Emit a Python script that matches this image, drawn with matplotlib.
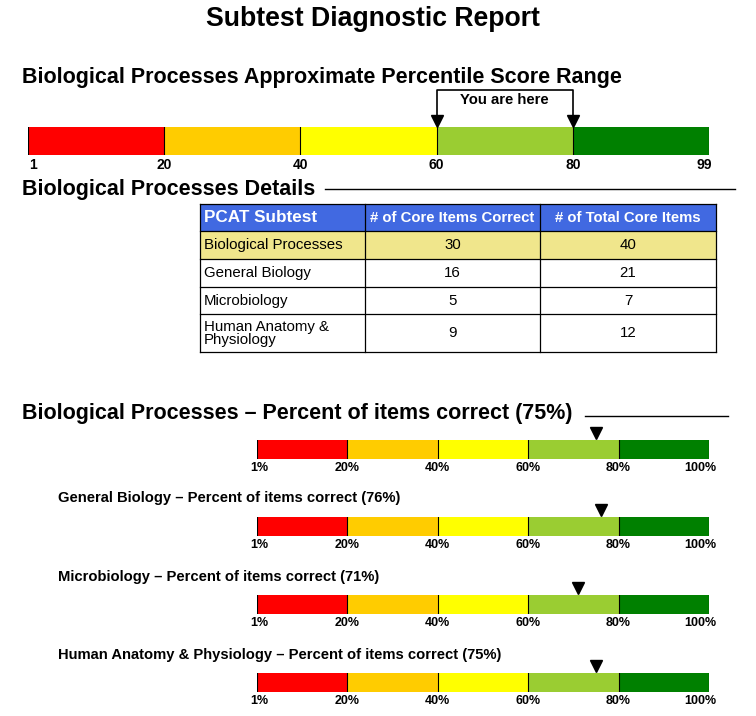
import matplotlib
matplotlib.use("Agg")
import matplotlib.pyplot as plt
from matplotlib.patches import Rectangle
import matplotlib.transforms as mtransforms

plt.rcParams['font.family'] = ['Liberation Sans', 'DejaVu Sans']

W, H = 756, 716

# data
BAND_COLORS = ["#ff0000", "#ffcc00", "#ffff00", "#9acd32", "#008000"]
PCT_LABELS = ["1", "20", "40", "60", "80", "99"]
RANGE_IDX = (3, 4)          # 60 .. 80 band

TABLE_HEADER = ["PCAT Subtest", "# of Core Items Correct", "# of Total Core Items"]
SUBTESTS = ["Biological Processes", "General Biology", "Microbiology",
            "Human Anatomy &\nPhysiology"]
CORRECT = [30, 16, 5, 9]
TOTAL = [40, 21, 7, 12]

BOUNDS = [0, 20, 40, 60, 80, 100]
BOUND_LABELS = ["1%", "20%", "40%", "60%", "80%", "100%"]
PCT_CORRECT = [75, 76, 71, 75]
SUB_TITLES = ["General Biology", "Microbiology", "Human Anatomy & Physiology"]


def px_axes(fig, x0, y0, w, h):
    return fig.add_axes([x0 / W, 1 - (y0 + h) / H, w / W, h / H])


def nudge(lbl, ha, dx, fig):
    lbl.set_ha(ha)
    lbl.set_transform(lbl.get_transform() + mtransforms.ScaledTranslation(dx / 100, 0, fig.dpi_scale_trans))


def band_bar(ax, edges, labels, size):
    for i, c in enumerate(BAND_COLORS):
        ax.barh(0.5, edges[i + 1] - edges[i], left=edges[i], height=1.0, color=c, edgecolor="none")
    for e in edges:
        ax.axvline(e, color="black", lw=0.8)
    ax.set_xlim(edges[0], edges[-1])
    ax.set_ylim(0, 1)
    ax.set_yticks([])
    ax.set_xticks(edges)
    ax.set_xticklabels(labels, fontsize=size, fontweight="bold")
    ax.tick_params(axis="x", length=0, pad=2)
    for s in ax.spines.values():
        s.set_visible(False)


fig = plt.figure(figsize=(W / 100, H / 100), dpi=100)
bg = fig.add_axes([0, 0, 1, 1])
bg.set_xlim(0, W)
bg.set_ylim(H, 0)
bg.axis("off")

bg.text(373, 19, "Subtest Diagnostic Report", ha="center", va="center", fontsize=19.2, fontweight="bold")
bg.text(22, 77, "Biological Processes Approximate Percentile Score Range", ha="left", va="center",
        fontsize=15.5, fontweight="bold")

# top percentile bar
ax = px_axes(fig, 28, 127, 681, 28)
seg = list(range(len(PCT_LABELS)))
band_bar(ax, seg, PCT_LABELS, 10)
tl = ax.get_xticklabels()
nudge(tl[0], "left", 1, fig)
nudge(tl[-1], "right", 3, fig)
a, b = RANGE_IDX
ytop = 1 + 37 / 28
ax.plot([a, a, b, b], [1 + 12 / 28, ytop, ytop, 1 + 12 / 28], color="black", lw=1.2, clip_on=False)
ax.plot([a, b], [1 + 6 / 28, 1 + 6 / 28], ls="none", marker="v", ms=9, color="black", clip_on=False)
ax.text((a + b) / 2, 1 + 27 / 28, "You are here", ha="center", va="center", fontsize=10.7, fontweight="bold")

# details heading + table
bg.text(22, 189, "Biological Processes Details", ha="left", va="center", fontsize=15.5, fontweight="bold")
bg.plot([325, 735], [189, 189], color="black", lw=1)

tx = px_axes(fig, 200, 204, 516, 148)
tx.set_xlim(0, 516)
tx.set_ylim(148, 0)
tx.axis("off")
col_x = [0, 165, 340, 516]
row_h = [27, 28, 28, 27, 38]
row_y = [0]
for h in row_h:
    row_y.append(row_y[-1] + h)

rows = [TABLE_HEADER] + [[s, str(c), str(t)] for s, c, t in zip(SUBTESTS, CORRECT, TOTAL)]
for r, vals in enumerate(rows):
    y0, y1 = row_y[r], row_y[r + 1]
    fill = "#4169e1" if r == 0 else ("#f0e68c" if r == 1 else "white")
    tx.add_patch(Rectangle((0, y0), 516, y1 - y0, facecolor=fill, edgecolor="none"))
    for c, v in enumerate(vals):
        xc = 4 if c == 0 else (col_x[c] + col_x[c + 1]) / 2
        if r == 0:
            fs = 12.3 if c == 0 else 10.7
        else:
            fs = 10.8
        tx.text(xc, (y0 + y1) / 2 + 0.5, v, ha="left" if c == 0 else "center", va="center",
                fontsize=fs, fontweight="bold" if r == 0 else "normal",
                color="white" if r == 0 else "black", linespacing=0.95)
for y in row_y:
    tx.plot([0, 516], [y, y], color="black", lw=0.9, clip_on=False)
for x in col_x:
    tx.plot([x, x], [0, 148], color="black", lw=0.9, clip_on=False)

# percent-correct bars
bg.text(22, 414, "Biological Processes \u2013 Percent of items correct (%d%%)" % PCT_CORRECT[0],
        ha="left", va="center", fontsize=15.5, fontweight="bold")
bg.plot([585, 728], [416, 416], color="black", lw=1)

bar_tops = [440, 517, 595, 673]
title_y = [None, 498, 577, 655]
for i, p in enumerate(PCT_CORRECT):
    if i > 0:
        bg.text(58, title_y[i], "%s \u2013 Percent of items correct (%d%%)" % (SUB_TITLES[i - 1], p),
                ha="left", va="center", fontsize=10.65, fontweight="bold")
    ax = px_axes(fig, 257, bar_tops[i], 452, 19)
    band_bar(ax, BOUNDS, BOUND_LABELS, 9)
    tl = ax.get_xticklabels()
    nudge(tl[0], "center", 2, fig)
    nudge(tl[-1], "right", 7, fig)
    ax.plot([p], [1 + 7 / 19], ls="none", marker="v", ms=8, color="black", clip_on=False)

fig.savefig("out.png", dpi=100)
